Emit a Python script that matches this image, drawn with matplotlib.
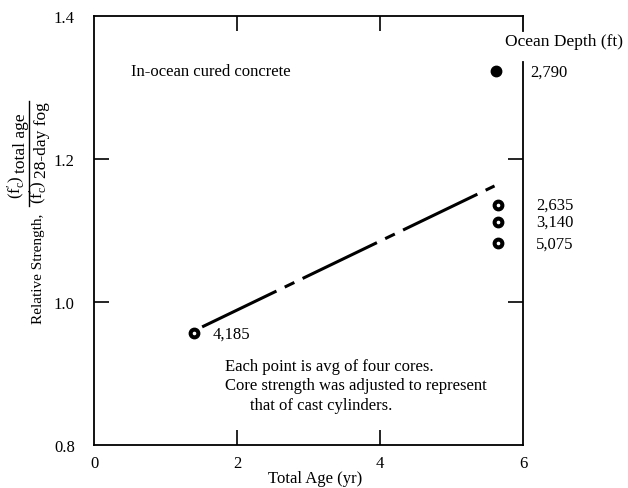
import matplotlib
matplotlib.use("Agg")
import matplotlib.pyplot as plt
from matplotlib.lines import Line2D

plt.rcParams['font.family'] = ['Liberation Serif', 'DejaVu Serif']
plt.rcParams['mathtext.fontset'] = 'custom'
plt.rcParams['mathtext.rm'] = 'Liberation Serif'
plt.rcParams['mathtext.it'] = 'Liberation Serif:italic'

# ── Data ────────────────────────────────────────────────────
ages = [1.40, 5.62, 5.65, 5.65, 5.65]           # total age (yr)
strengths = [0.956, 1.322, 1.136, 1.112, 1.082]  # relative strength
depths = ['4,185', '2,790', '2,635', '3,140', '5,075']  # ocean depth (ft)

trend_x = [1.51, 5.60]
trend_y = [0.965, 1.162]

xticks = [0, 2, 4, 6]
yticks = [0.8, 1.0, 1.2, 1.4]

fig = plt.figure(figsize=(6.28, 4.89), dpi=100)
ax = fig.add_axes([0.150, 0.088, 0.683, 0.878])
ax.set_xlim(0, 6)
ax.set_ylim(0.8, 1.4)

# trend line, long-short dashes
ax.plot(trend_x, trend_y, color='black', lw=2.2, solid_capstyle='butt',
        dashes=(27, 3, 3.5, 3))

# points: black dots with a small white centre
ax.plot(ages, strengths, 'o', color='black', ms=7.5, zorder=3)
ax.plot(ages[:1] + ages[2:], strengths[:1] + strengths[2:], 'o',
        color='white', ms=1.6, zorder=4)

# depth labels
fs = 12
ax.text(ages[0] + 0.25, strengths[0], depths[0], fontsize=fs, va='center')
ax.text(6.1, strengths[1], depths[1], fontsize=fs, va='center', clip_on=False)
for a, s, d in zip(ages[2:], strengths[2:], depths[2:]):
    ax.text(6.18, s, d, fontsize=fs, va='center', clip_on=False)
ax.text(5.75, 1.364, 'Ocean Depth (ft)', fontsize=12.5, va='center', clip_on=False)

ax.text(0.52, 1.323, 'In-ocean cured concrete', fontsize=fs, va='center')
ax.text(1.83, 0.911, 'Each point is avg of four cores.', fontsize=fs, va='center')
ax.text(1.83, 0.884, 'Core strength was adjusted to represent', fontsize=fs, va='center')
ax.text(2.18, 0.856, 'that of cast cylinders.', fontsize=fs, va='center')

# axes styling: ticks inward, gap in right spine for the header
ax.set_xticks(xticks)
ax.set_yticks(yticks)
ax.set_xticklabels(['0', '2', '4', '6'])
ax.set_yticklabels(['0.8', '1.0', '1.2', '1.4'])
ax.tick_params(direction='in', length=11, width=1.2, labelsize=12,
               top=True, right=True, pad=7)
ax.tick_params(axis='y', pad=14)
for t in ax.xaxis.get_major_ticks():
    if t.get_loc() in (0, 6):
        t.tick1line.set_visible(False)
        t.tick2line.set_visible(False)
for t in ax.yaxis.get_major_ticks():
    if t.get_loc() in (0.8, 1.4):
        t.tick1line.set_visible(False)
        t.tick2line.set_visible(False)

for s in ax.spines.values():
    s.set_linewidth(1.3)
ax.spines['right'].set_visible(False)
ax.plot([6, 6], [1.4, 1.379], color='black', lw=1.3, clip_on=False)
ax.plot([6, 6], [1.335, 0.8], color='black', lw=1.3, clip_on=False)

ax.set_xlabel('Total Age (yr)', fontsize=12)
ax.xaxis.set_label_coords(0.516, -0.058)

# y label built from pieces: text, then a stacked fraction
W, H = 628, 489


def ylab(px, py, s, size):
    fig.text(px / W, 1 - py / H, s, rotation=90, rotation_mode='anchor',
             ha='left', va='baseline', fontsize=size)


ylab(42, 324, 'Relative Strength,', 11)
ylab(21, 199, r"$(\mathrm{f}_{\mathrm{c}}^{\prime})$", 12)
ylab(25, 173, 'total age', 12.5)
ylab(43, 204, r"$(\mathrm{f}_{\mathrm{c}}^{\prime})$", 12)
ylab(46, 178, '28-day fog', 12.5)
fig.add_artist(Line2D([29 / W, 29 / W], [1 - 102 / H, 1 - 207 / H],
                      color='black', lw=1.0))

fig.savefig('out.png', dpi=100)
